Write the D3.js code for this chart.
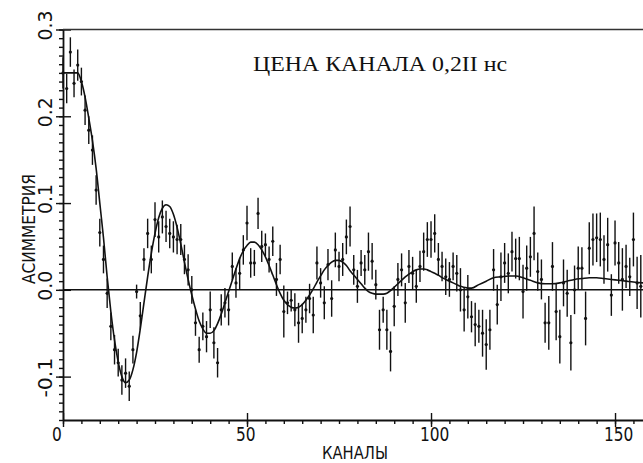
<!DOCTYPE html>
<html>
<head>
<meta charset="utf-8">
<script src="https://cdn.jsdelivr.net/npm/d3@7/dist/d3.min.js"></script>
<style>
  html, body { margin: 0; padding: 0; background: #fff; }
  svg { display: block; }
</style>
</head>
<body>
<div id="chart"></div>
<script>
// asymmetry per channel (index = channel number)
const values = [
  0.250, 0.232, 0.274, 0.238, 0.259, 0.240, 0.207, 0.184, 0.161, 0.115,
  0.066, 0.035, -0.004, -0.042, -0.069, -0.084, -0.104, -0.096, -0.111, -0.069,
  -0.002, -0.030, 0.035, 0.065, 0.035, 0.081, 0.061, 0.084, 0.073, 0.065,
  0.061, 0.058, 0.058, 0.035, 0.023, 0.000, -0.038, -0.069, -0.042, -0.054,
  -0.023, -0.061, -0.084, -0.023, -0.015, -0.023, 0.027, 0.008, 0.019, 0.046,
  0.077, 0.031, 0.031, 0.088, 0.050, 0.052, 0.035, 0.056, 0.012, 0.035,
  -0.025, -0.015, -0.012, -0.023, -0.038, -0.033, -0.023, -0.010, -0.029, 0.031,
  0.008, -0.015, 0.029, -0.010, 0.046, 0.027, 0.035, 0.061, 0.073, 0.023,
  0.004, 0.031, 0.023, 0.044, 0.033, 0.006, -0.046, -0.023, -0.046, -0.071,
  -0.019, 0.012, 0.023, -0.015, 0.027, 0.019, 0.004, 0.027, 0.044, 0.058,
  0.058, 0.065, 0.035, 0.027, 0.015, 0.012, 0.027, 0.019, 0.000, -0.023,
  -0.008, -0.031, -0.040, -0.042, -0.050, -0.063, -0.046, 0.023, -0.017, 0.015,
  0.031, 0.019, 0.044, 0.036, 0.036, -0.002, 0.025, 0.038, 0.065, 0.021,
  0.012, -0.038, -0.038, 0.027, -0.025, -0.054, 0.008, -0.004, -0.061, 0.000,
  0.025, 0.025, -0.033, 0.048, 0.058, 0.060, 0.058, 0.035, 0.052, -0.006,
  0.054, 0.031, 0.012, 0.027, 0.015, 0.058, 0.008, 0.004
];

// half length of each error bar
const errors = [
  0.018, 0.017, 0.017, 0.016, 0.018, 0.016, 0.017, 0.016, 0.017, 0.017,
  0.016, 0.016, 0.017, 0.016, 0.017, 0.016, 0.017, 0.017, 0.017, 0.016,
  0.008, 0.016, 0.013, 0.017, 0.016, 0.020, 0.018, 0.019, 0.018, 0.017,
  0.018, 0.017, 0.018, 0.017, 0.018, 0.016, 0.015, 0.015, 0.016, 0.018,
  0.021, 0.018, 0.017, 0.018, 0.017, 0.018, 0.016, 0.017, 0.018, 0.017,
  0.020, 0.017, 0.015, 0.018, 0.018, 0.013, 0.015, 0.017, 0.019, 0.017,
  0.030, 0.013, 0.013, 0.019, 0.023, 0.017, 0.015, 0.017, 0.021, 0.019,
  0.017, 0.019, 0.018, 0.021, 0.020, 0.017, 0.019, 0.020, 0.023, 0.017,
  0.019, 0.015, 0.017, 0.022, 0.021, 0.017, 0.023, 0.015, 0.023, 0.023,
  0.023, 0.019, 0.019, 0.023, 0.019, 0.019, 0.019, 0.018, 0.022, 0.020,
  0.021, 0.022, 0.019, 0.017, 0.021, 0.020, 0.016, 0.021, 0.025, 0.025,
  0.025, 0.018, 0.025, 0.019, 0.027, 0.029, 0.023, 0.024, 0.023, 0.028,
  0.023, 0.023, 0.023, 0.023, 0.025, 0.031, 0.026, 0.023, 0.031, 0.022,
  0.023, 0.023, 0.031, 0.028, 0.033, 0.031, 0.027, 0.027, 0.032, 0.028,
  0.025, 0.024, 0.031, 0.030, 0.030, 0.028, 0.031, 0.028, 0.031, 0.024,
  0.026, 0.024, 0.036, 0.025, 0.022, 0.031, 0.030, 0.036
];

// fitted curve, read at these channels
const fitChannels = [
  0, 4, 5, 6, 7, 8, 9, 10, 11, 12, 13, 14, 15, 16, 17, 18, 19, 20,
  21, 22, 23, 24, 25, 26, 27, 28, 29, 30, 31, 32, 33, 34, 35, 36, 37, 38,
  39, 40, 41, 42, 43, 44, 45, 46, 47, 48, 49, 50, 51, 52, 53, 54, 55, 56,
  57, 58, 59, 60, 61, 62, 63, 64, 65, 66, 67, 68, 69, 70, 71, 72, 73, 74,
  75, 76, 77, 78, 79, 80, 81, 82, 83, 84, 85, 86, 87, 88, 89, 90, 91, 92,
  93, 94, 95, 96, 97, 98, 99, 100, 101, 102, 103, 104, 105, 106, 107, 108, 109, 110,
  111, 113, 115, 117, 119, 121, 123, 125, 127, 129, 131, 133, 135, 137, 139, 141,
  143, 145, 147, 149, 151, 153, 155, 157.6
];
const fitValues = [
  0.250, 0.250, 0.240, 0.222, 0.198, 0.172, 0.140, 0.100, 0.060, 0.015, -0.025, -0.058, -0.083, -0.100, -0.107, -0.104, -0.092, -0.072,
  -0.045, -0.015, 0.015, 0.042, 0.065, 0.083, 0.094, 0.098, 0.096, 0.087, 0.072, 0.053, 0.032, 0.012, -0.006, -0.022, -0.036, -0.045,
  -0.050, -0.050, -0.047, -0.039, -0.028, -0.015, -0.002, 0.011, 0.024, 0.036, 0.045, 0.051, 0.055, 0.055, 0.052, 0.046, 0.038, 0.028,
  0.017, 0.006, -0.004, -0.012, -0.017, -0.020, -0.021, -0.020, -0.017, -0.012, -0.006, 0.001, 0.009, 0.016, 0.023, 0.028, 0.032, 0.034,
  0.034, 0.032, 0.028, 0.022, 0.017, 0.012, 0.007, 0.002, -0.002, -0.004, -0.005, -0.005, -0.005, -0.004, -0.001, 0.003, 0.007, 0.011,
  0.015, 0.018, 0.021, 0.023, 0.024, 0.024, 0.023, 0.021, 0.019, 0.017, 0.014, 0.012, 0.010, 0.008, 0.006, 0.004, 0.003, 0.002,
  0.002, 0.006, 0.010, 0.014, 0.015, 0.016, 0.016, 0.014, 0.011, 0.008, 0.007, 0.007, 0.008, 0.010, 0.012, 0.013,
  0.014, 0.014, 0.013, 0.012, 0.011, 0.010, 0.009, 0.008
];

const xMajorTicks = [0, 50, 100, 150];
const xTickLabels = ["0", "50", "100", "150"];
const yMajorTicks = [-0.1, 0, 0.1, 0.2, 0.3];
const yTickLabels = ["-0.1", "0.0", "0.1", "0.2", "0.3"];
const title = "ЦЕНА КАНАЛА 0,2II нс";
const xTitle = "КАНАЛЫ";
const yTitle = "АСИММЕТРИЯ";

const W = 643, H = 463;
const ink = "#111";

const svg = d3.select("#chart").append("svg")
  .attr("width", W).attr("height", H);

const x = d3.scaleLinear().domain([0, 157.6]).range([63, 643]);
const y = d3.scaleLinear().domain([-0.15, 0.3]).range([420, 29.5]);

// bottom axis: minor every 5 channels, major crossing the line
const xMinor = d3.range(0, 158, 5);
svg.append("g").attr("transform", `translate(0,${y(-0.15)})`)
  .call(d3.axisBottom(x).tickValues(xMinor).tickSize(4).tickSizeOuter(0).tickFormat(""));
const gxMaj = svg.append("g").attr("transform", `translate(0,${y(-0.15)})`)
  .call(d3.axisBottom(x).tickValues(xMajorTicks).tickSize(7).tickSizeOuter(0).tickFormat(""));
gxMaj.select(".domain").remove();
gxMaj.selectAll(".tick line").attr("y1", -7);

// left axis: minor every 0.01, major every 0.1
const yMinor = d3.range(-15, 31).map(d => d / 100);
svg.append("g").attr("transform", `translate(${x(0)},0)`)
  .call(d3.axisLeft(y).tickValues(yMinor).tickSize(4).tickSizeOuter(0).tickFormat(""));
const gyMaj = svg.append("g").attr("transform", `translate(${x(0)},0)`)
  .call(d3.axisLeft(y).tickValues(yMajorTicks).tickSize(7).tickSizeOuter(0).tickFormat(""));
gyMaj.select(".domain").remove();
gyMaj.selectAll(".tick line").attr("x1", 8);

svg.selectAll(".domain").attr("stroke", ink).attr("stroke-width", 1.8);
svg.selectAll(".tick line").attr("stroke", ink).attr("stroke-width", 1.4);

// top frame line and zero line
svg.append("line")
  .attr("x1", x(0)).attr("x2", x(157.6)).attr("y1", y(0.3)).attr("y2", y(0.3))
  .attr("stroke", "#333").attr("stroke-width", 1.5);
svg.append("line")
  .attr("x1", x(0)).attr("x2", x(157.6)).attr("y1", y(0)).attr("y2", y(0))
  .attr("stroke", ink).attr("stroke-width", 1.5);

// tick labels
const labelFont = "'DejaVu Sans', sans-serif";
svg.append("g").selectAll("text").data(xMajorTicks).join("text")
  .attr("x", d => x(d) - 11)
  .attr("y", 441)
  .attr("text-anchor", "start")
  .attr("font-family", labelFont).attr("font-size", 19).attr("fill", ink)
  .attr("textLength", (d, i) => xTickLabels[i].length * 9.8)
  .attr("lengthAdjust", "spacingAndGlyphs")
  .text((d, i) => xTickLabels[i]);

svg.append("g").selectAll("text").data(yMajorTicks).join("text")
  .attr("transform", d => `translate(52,${y(d) - 19}) rotate(-90)`)
  .attr("text-anchor", "end")
  .attr("font-family", labelFont).attr("font-size", 19).attr("fill", ink)
  .attr("textLength", (d, i) => yTickLabels[i].length * 10)
  .attr("lengthAdjust", "spacingAndGlyphs")
  .text((d, i) => yTickLabels[i]);

// axis titles
svg.append("text")
  .attr("transform", `translate(35,${y(0.07)}) rotate(-90)`)
  .attr("text-anchor", "middle")
  .attr("font-family", labelFont).attr("font-size", 18).attr("fill", ink)
  .attr("textLength", 110).attr("lengthAdjust", "spacingAndGlyphs")
  .text(yTitle);

svg.append("text")
  .attr("x", 322).attr("y", 459)
  .attr("font-family", labelFont).attr("font-size", 17).attr("fill", ink)
  .attr("textLength", 66).attr("lengthAdjust", "spacingAndGlyphs")
  .text(xTitle);

// annotation
svg.append("text")
  .attr("x", 253).attr("y", 71)
  .attr("font-family", "'Liberation Serif', 'DejaVu Serif', serif")
  .attr("font-size", 21).attr("fill", ink)
  .attr("textLength", 254).attr("lengthAdjust", "spacingAndGlyphs")
  .text(title);

// error bars
const pts = values.map((v, i) => ({ ch: i, v, e: errors[i] }));
svg.append("g").selectAll("line").data(pts).join("line")
  .attr("x1", d => x(d.ch)).attr("x2", d => x(d.ch))
  .attr("y1", d => y(d.v + d.e)).attr("y2", d => y(d.v - d.e))
  .attr("stroke", ink).attr("stroke-width", 1.4);

svg.append("g").selectAll("circle").data(pts).join("circle")
  .attr("cx", d => x(d.ch)).attr("cy", d => y(d.v))
  .attr("r", 1.6).attr("fill", ink);

// fitted curve
const fit = fitChannels.map((c, i) => ({ c, v: fitValues[i] }));
const line = d3.line()
  .x(d => x(d.c))
  .y(d => y(d.v))
  .curve(d3.curveMonotoneX);

svg.append("path")
  .datum(fit)
  .attr("fill", "none")
  .attr("stroke", ink)
  .attr("stroke-width", 1.6)
  .attr("d", line);
</script>
</body>
</html>
